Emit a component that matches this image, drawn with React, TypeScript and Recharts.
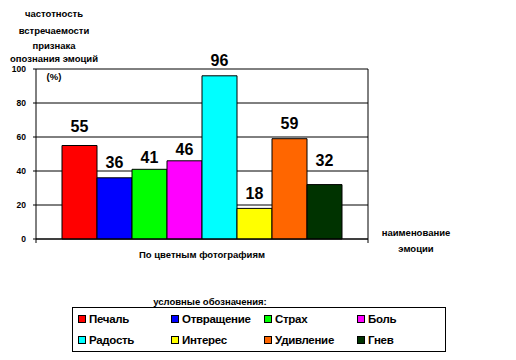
import React from 'react';
import { BarChart, Bar, XAxis, YAxis, CartesianGrid, LabelList, Legend, Customized } from 'recharts';

const categories = ['По цветным фотографиям'];
const emotions = ['Печаль', 'Отвращение', 'Страх', 'Боль', 'Радость', 'Интерес', 'Удивление', 'Гнев'];
const values = [55, 36, 41, 46, 96, 18, 59, 32];
const colors = ['#FF0000', '#0000FF', '#00FF00', '#FF00FF', '#00FFFF', '#FFFF00', '#FF6600', '#003300'];
const yTicks = [0, 20, 40, 60, 80, 100];
const yTitleLines = ['частотность', 'встречаемости', 'признака', 'опознания эмоций'];
const yUnit = '(%)';
const xTitleLines = ['наименование', 'эмоции'];
const legendTitle = 'условные обозначения:';

// label offsets above each bar (layout only)
const labelOffsets = [14, 10, 6, 6, 10, 9, 10, 19];

const data = categories.map((c) => {
  const row: Record<string, string | number> = { category: c };
  emotions.forEach((e, i) => {
    row[e] = values[i];
  });
  return row;
});

const FONT = '"Liberation Sans", Arial, sans-serif';

const Titles = () => (
  <g fontFamily={FONT} fontWeight="bold" fontSize={9.5} fill="#000">
    {yTitleLines.map((t, i) => (
      <text key={t} x={54} y={[17, 34, 49, 62][i]} textAnchor="middle">{t}</text>
    ))}
    <text x={54} y={80} textAnchor="middle">{yUnit}</text>
    <text x={416} y={236} textAnchor="middle">{xTitleLines[0]}</text>
    <text x={416} y={252} textAnchor="middle">{xTitleLines[1]}</text>
    <text x={202} y={258} textAnchor="middle">{categories[0]}</text>
    <line x1={368} y1={69} x2={368} y2={243} stroke="#000" strokeWidth={1} />
    <line x1={36} y1={239} x2={36} y2={243} stroke="#000" strokeWidth={1} />
  </g>
);

const renderLegend = () => (
  <div style={{ position: 'relative', width: 374, height: 56, fontFamily: FONT }}>
    <div style={{ position: 'absolute', left: 0, width: 276, top: 0, textAlign: 'center', fontSize: 9.5, fontWeight: 'bold', lineHeight: '11px' }}>
      {legendTitle}
    </div>
    <div style={{ position: 'absolute', left: 0, top: 11, width: 372, height: 43, border: '1px solid #000', boxSizing: 'content-box' }}>
      {emotions.map((e, i) => {
        const col = i % 4;
        const row = Math.floor(i / 4);
        return (
          <div key={e} style={{ position: 'absolute', left: 5 + col * 93, top: 4 + row * 21, display: 'flex', alignItems: 'center', height: 14 }}>
            <span style={{ display: 'inline-block', width: 6, height: 6, border: '1px solid #000', background: colors[i], marginRight: 3 }} />
            <span style={{ fontSize: 11.5, fontWeight: 'bold', color: '#000', letterSpacing: -0.3 }}>{e}</span>
          </div>
        );
      })}
    </div>
  </div>
);

export default function App() {
  return (
    <div style={{ position: 'absolute', left: 0, top: 0, width: 516, height: 360, background: '#fff' }}>
      <BarChart
        width={516}
        height={360}
        data={data}
        margin={{ top: 69, right: 148, bottom: 120, left: 0 }}
        barGap={0}
        barCategoryGap={26}
      >
        <CartesianGrid horizontal vertical={false} stroke="#000" strokeWidth={1} />
        <XAxis dataKey="category" tick={false} tickLine={false} axisLine={{ stroke: '#000' }} height={1} />
        <YAxis
          width={36}
          domain={[0, 100]}
          ticks={yTicks}
          interval={0}
          tickSize={3}
          tickMargin={7}
          tickLine={{ stroke: '#000' }}
          axisLine={{ stroke: '#000' }}
          tick={{ fontSize: 8.5, fontWeight: 'bold', fill: '#000', fontFamily: FONT }}
        />
        {emotions.map((e, i) => (
          <Bar key={e} dataKey={e} fill={colors[i]} stroke="#000" strokeWidth={1} isAnimationActive={false}>
            <LabelList dataKey={e} position="top" offset={labelOffsets[i]} fontSize={16} fontWeight="bold" fill="#000" fontFamily={FONT} />
          </Bar>
        ))}
        <Legend
          layout="horizontal"
          verticalAlign="middle"
          align="center"
          content={renderLegend}
          wrapperStyle={{ position: 'absolute', left: 72, top: 296, width: 376, height: 56 }}
        />
        <Customized component={Titles} />
      </BarChart>
    </div>
  );
}
